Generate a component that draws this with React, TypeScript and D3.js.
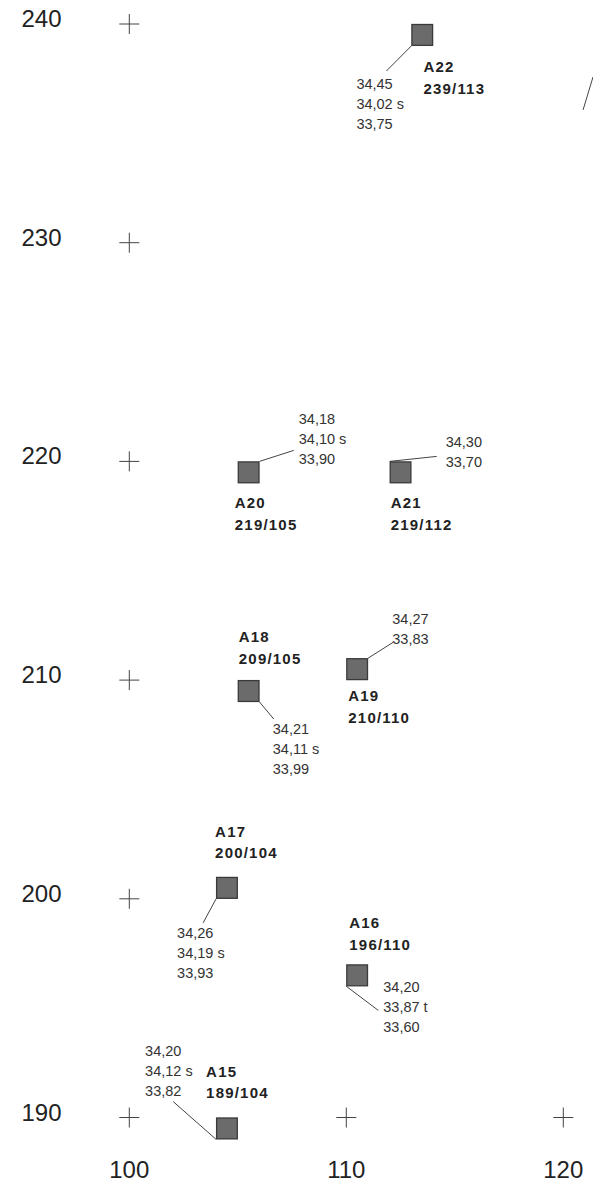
import React from "react";
import * as d3 from "d3";

// ---- data ----
const sites = ["A15", "A16", "A17", "A18", "A19", "A20", "A21", "A22"];
const northing = [189, 196, 200, 209, 210, 219, 219, 239];
const easting = [104, 110, 104, 105, 110, 105, 112, 113];
const elevations: string[][] = [
  ["34,20", "34,12 s", "33,82"],
  ["34,20", "33,87 t", "33,60"],
  ["34,26", "34,19 s", "33,93"],
  ["34,21", "34,11 s", "33,99"],
  ["34,27", "33,83"],
  ["34,18", "34,10 s", "33,90"],
  ["34,30", "33,70"],
  ["34,45", "34,02 s", "33,75"],
];
const xTicks = [100, 110, 120];
const yTicks = [190, 200, 210, 220, 230, 240];
// fragment of a leader line from a find outside the frame (east / north)
const fragmentE = [121.37, 120.91];
const fragmentN = [237.58, 236.07];

// ---- layout (pixel offsets relative to the square's top-left corner) ----
type Corner = "tl" | "tr" | "bl" | "br";
const leaderCorner: Corner[] = ["bl", "bl", "bl", "br", "tr", "tr", "tl", "bl"];
const leaderEnd: [number, number][] = [
  [-43, -16], [32, 46], [-13, 46], [36, 39], [47, -16], [56, -11], [47, -5], [-25, 47],
];
const valuePos: [number, number][] = [
  [-71, -62], [37, 28], [-39, 61], [35, 54], [46, -34], [61, -37], [56, -14], [-55, 65],
];
const labelPos: [number, number][] = [
  [-10, -41], [3, -36], [-1, -40], [1, -38], [2, 43], [-3, 47], [1, 47], [12, 48],
];

const W = 593;
const H = 1183;

export default function App() {
  const x = d3.scaleLinear().domain([100, 120]).range([129.3, 563.3]);
  const y = d3.scaleLinear().domain([240, 190]).range([24, 1117.5]);
  const ink = "#222";
  const font = "'Liberation Sans', Arial, sans-serif";

  const crosses: [number, number][] = [
    ...yTicks.map((t) => [xTicks[0], t] as [number, number]),
    ...xTicks.slice(1).map((t) => [t, yTicks[0]] as [number, number]),
  ];

  return (
    <svg
      width={W}
      height={H}
      style={{ position: "absolute", left: 0, top: 0, background: "#fff" }}
      fontFamily={font}
    >
      <rect x={0} y={0} width={W} height={H} fill="#fff" />
      {/* grid crosses */}
      {crosses.map(([e, n], i) => (
        <g key={"c" + i} stroke="#444" strokeWidth={1}>
          <line x1={x(e) - 10} x2={x(e) + 10} y1={y(n)} y2={y(n)} />
          <line x1={x(e)} x2={x(e)} y1={y(n) - 10} y2={y(n) + 10} />
        </g>
      ))}
      {/* y labels */}
      {yTicks.map((t) => (
        <text key={"y" + t} x={41.5} y={y(t) + 3} fontSize={24} textAnchor="middle" fill={ink}>
          {t}
        </text>
      ))}
      {/* x labels */}
      {xTicks.map((t) => (
        <text key={"x" + t} x={x(t)} y={y(yTicks[0]) + 60} fontSize={24} textAnchor="middle" fill={ink}>
          {t}
        </text>
      ))}
      {/* fragment line */}
      <line
        x1={x(fragmentE[0])}
        y1={y(fragmentN[0])}
        x2={x(fragmentE[1])}
        y2={y(fragmentN[1])}
        stroke="#444"
        strokeWidth={1}
      />
      {sites.map((s, i) => {
        const sx = x(easting[i]);
        const sy = y(northing[i] + 1);
        const w = x(easting[i] + 1) - sx;
        const h = y(northing[i]) - sy;
        const c = leaderCorner[i];
        const cx = c === "tr" || c === "br" ? sx + w : sx;
        const cy = c === "bl" || c === "br" ? sy + h : sy;
        return (
          <g key={s}>
            <line
              x1={cx}
              y1={cy}
              x2={sx + leaderEnd[i][0]}
              y2={sy + leaderEnd[i][1]}
              stroke="#444"
              strokeWidth={1}
            />
            <rect
              x={sx + 0.5}
              y={sy + 0.5}
              width={w - 1}
              height={h - 1}
              fill="#6b6b6b"
              stroke="#3a3a3a"
              strokeWidth={1.3}
            />
            <text
              x={sx + labelPos[i][0]}
              y={sy + labelPos[i][1]}
              fontSize={15}
              fontWeight="bold"
              letterSpacing={1.2}
              fill={ink}
            >
              <tspan x={sx + labelPos[i][0]}>{s}</tspan>
              <tspan x={sx + labelPos[i][0]} dy={21.5}>
                {northing[i]}/{easting[i]}
              </tspan>
            </text>
            <text x={sx + valuePos[i][0]} y={sy + valuePos[i][1]} fontSize={14.5} fill="#333">
              {elevations[i].map((v, j) => (
                <tspan key={j} x={sx + valuePos[i][0]} dy={j === 0 ? 0 : 20}>
                  {v}
                </tspan>
              ))}
            </text>
          </g>
        );
      })}
    </svg>
  );
}
